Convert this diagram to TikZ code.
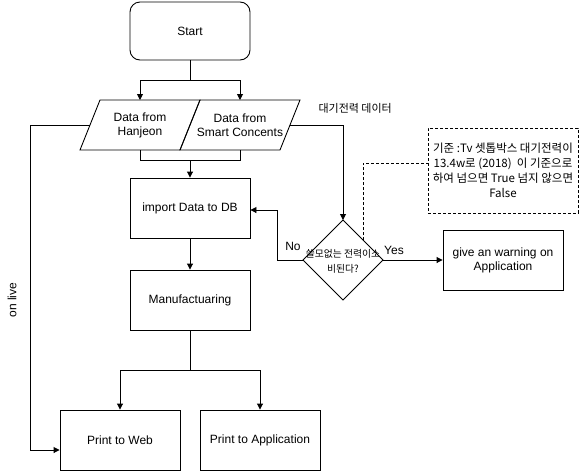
\documentclass[tikz,border=0pt]{standalone}
\usepackage{fontspec}
\setmainfont{Liberation Sans}
\newfontfamily\kr{Noto Sans CJK KR}
\usetikzlibrary{arrows.meta,shapes.geometric}
\begin{document}
\begin{tikzpicture}[x=1pt,y=-1pt,
  every node/.style={font=\fontsize{12}{14}\selectfont},
  box/.style={draw,line width=0.9pt,minimum width=120pt,minimum height=60pt,align=center,inner sep=0pt},
  wire/.style={line width=0.9pt},
  arr/.style={line width=0.9pt,-{Triangle[length=6pt,width=6pt]}},
  dsh/.style={line width=0.8pt,dash pattern=on 3pt off 2pt}]
\useasboundingbox (0,0) rectangle (580,472);
% nodes
\node[box,rounded corners=10pt,minimum height=58pt] (start) at (190,31) {Start};
\draw[line width=0.9pt] (100,100) -- (200,100) -- (180,150) -- (80,150) -- cycle;
\node[align=center,inner sep=0pt] (han) at (140,125) {Data from\\Hanjeon};
\draw[line width=0.9pt] (200,100) -- (300,100) -- (280,150) -- (180,150) -- cycle;
\node[align=center,inner sep=0pt] (smart) at (240,125) {Data from\\Smart Concents};
\coordinate (hanL) at (90,125);
\coordinate (smartR) at (290,125);
\node[box] (imp) at (190,208) {import Data to DB};
\node[box] (man) at (190,300) {Manufactuaring};
\node[box] (web) at (120,440) {Print to Web};
\node[box] (app) at (260,440) {Print to Application};
\node[box] (warn) at (503,260) {give an warning on\\Application};
\draw[line width=0.9pt] (343,220) -- (383,260) -- (343,300) -- (303,260) -- cycle;
\coordinate (dT) at (343,220);
\coordinate (dL) at (303,260);
\coordinate (dR) at (383,260);
\coordinate (dUR) at (363,240);
\node[align=center,inner sep=0pt,font=\kr\fontsize{9.8}{15}\selectfont] (dtxt) at (343,261) {쓸모없는 전력이소\\비된다?};
\node[draw,dsh,minimum width=150pt,minimum height=85pt,inner sep=0pt,align=center,font=\kr\fontsize{11.5}{15}\selectfont] (note) at (503,170.5) {기준 :Tv 셋톱박스 대기전력이\\13.4w로 (2018)\ \ 이 기준으로\\하여 넘으면 True 넘지 않으면\\False};
% connectors
\draw[wire] (start.south) -- (190,80);
\draw[arr] (190,80) -- (140,80) -- (140,100);
\draw[arr] (190,80) -- (240,80) -- (240,100);
\draw[wire] (140,150) -- (140,160) -- (240,160) -- (240,150);
\draw[arr] (190,160) -- (imp.north);
\draw[arr] (smartR) -- (343,125) -- (dT);
\draw[arr] (hanL) -- (30,125) -- (30,450) -- (web.west |- 0,450);
\draw[arr] (imp.south) -- (man.north);
\draw[wire] (man.south) -- (190,370);
\draw[arr] (190,370) -- (120,370) -- (web.north);
\draw[arr] (190,370) -- (260,370) -- (app.north);
\draw[arr] (dL) -- (277,260) -- (277,210) -- (imp.east |- 0,210);
\draw[arr] (dR) -- (warn.west);
\draw[dsh] (dUR) -- (363,163) -- (note.west |- 0,163);
% labels
\node[font=\kr\fontsize{11}{12}\selectfont,anchor=west] (lbl1) at (315,108) {대기전력 데이터};
\node (no) at (293,246) {No};
\node (yes) at (394,250) {Yes};
\node[rotate=90] (live) at (12,300) {on live};
\end{tikzpicture}
\end{document}
